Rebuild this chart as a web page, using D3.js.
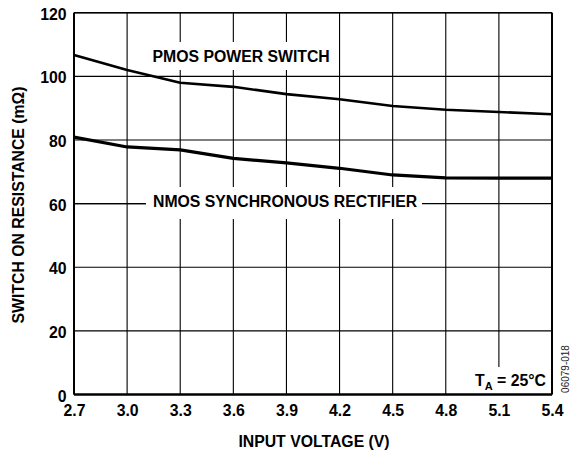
<!DOCTYPE html>
<html><head><meta charset="utf-8">
<script src="https://cdn.jsdelivr.net/npm/d3@7"></script>
<style>
html,body{margin:0;padding:0;background:#fff;}
text{font-family:"Liberation Sans",Arial,Helvetica,sans-serif;font-weight:bold;fill:#000;}
</style></head>
<body>
<svg id="c" width="573" height="453"></svg>
<script>
const voltages = [2.7, 3.0, 3.3, 3.6, 3.9, 4.2, 4.5, 4.8, 5.1, 5.4];
const pmos = [106.7, 102.0, 98.0, 96.7, 94.4, 92.8, 90.7, 89.5, 88.8, 88.1];
const nmos = [80.9, 77.8, 76.9, 74.2, 72.8, 71.1, 69.0, 68.1, 68.0, 68.0];
const xTicks = [2.7, 3.0, 3.3, 3.6, 3.9, 4.2, 4.5, 4.8, 5.1, 5.4];
const yTicks = [0, 20, 40, 60, 80, 100, 120];
const labels = {pmos: "PMOS POWER SWITCH", nmos: "NMOS SYNCHRONOUS RECTIFIER"};

const svg = d3.select("#c");
const L = 74, R = 552, T = 12.7, B = 394.5;
const x = d3.scaleLinear().domain([2.7, 5.4]).range([L, R]);
const y = d3.scaleLinear().domain([0, 120]).range([B, T]);
const fs = "15.8px";

// grid
svg.append("g").selectAll("line").data(xTicks).join("line")
  .attr("x1", d => x(d)).attr("x2", d => x(d)).attr("y1", T).attr("y2", B)
  .attr("stroke", "#000").attr("stroke-width", 1.1);
svg.append("g").selectAll("line").data(yTicks).join("line")
  .attr("x1", L).attr("x2", R).attr("y1", d => y(d)).attr("y2", d => y(d))
  .attr("stroke", "#000").attr("stroke-width", 1.1);

// label boxes (white backgrounds interrupting grid)
svg.append("rect").attr("x", 146).attr("y", 42).attr("width", 193).attr("height", 28).attr("fill", "#fff");
svg.append("rect").attr("x", 146).attr("y", 187).attr("width", 276).attr("height", 32).attr("fill", "#fff");
svg.append("rect").attr("x", 462).attr("y", 367).attr("width", 90).attr("height", 27).attr("fill", "#fff");
// restore 60 gridline left of NMOS label
svg.append("line").attr("x1", L).attr("x2", 146).attr("y1", y(60)).attr("y2", y(60)).attr("stroke", "#000").attr("stroke-width", 1.1);

// axes frame
svg.append("line").attr("x1", L).attr("x2", R).attr("y1", B).attr("y2", B).attr("stroke", "#000").attr("stroke-width", 2.6);
svg.append("line").attr("x1", L).attr("x2", L).attr("y1", T).attr("y2", B).attr("stroke", "#000").attr("stroke-width", 2);
svg.append("line").attr("x1", R).attr("x2", R).attr("y1", T).attr("y2", B).attr("stroke", "#000").attr("stroke-width", 2);
svg.append("line").attr("x1", L).attr("x2", R).attr("y1", T).attr("y2", T).attr("stroke", "#000").attr("stroke-width", 1.6);

// lines
const line = d3.line().x((d, i) => x(voltages[i])).y(d => y(d));
svg.append("path").attr("d", line(pmos)).attr("fill", "none").attr("stroke", "#000").attr("stroke-width", 2.6).attr("stroke-linejoin", "round");
svg.append("path").attr("d", line(nmos)).attr("fill", "none").attr("stroke", "#000").attr("stroke-width", 3.2).attr("stroke-linejoin", "round");

// axis tick labels
const xAxis = d3.axisBottom(x).tickValues(xTicks).tickFormat(d3.format(".1f")).tickSize(0).tickPadding(10);
const gx = svg.append("g").attr("transform", `translate(0,${B})`).call(xAxis);
gx.select(".domain").remove();
gx.selectAll("text").style("font-size", fs).style("font-family", null).attr("dy", "0.71em");
const yAxis = d3.axisLeft(y).tickValues(yTicks).tickSize(0).tickPadding(7.5);
const gy = svg.append("g").attr("transform", `translate(${L},0)`).call(yAxis);
gy.select(".domain").remove();
gy.selectAll("text").style("font-size", fs).style("font-family", null).attr("dy", "0.42em");

// titles
svg.append("text").attr("x", 314).attr("y", 447).attr("text-anchor", "middle").style("font-size", fs).text("INPUT VOLTAGE (V)");
svg.append("text").attr("transform", "translate(24,205) rotate(-90)").attr("text-anchor", "middle").style("font-size", fs).text("SWITCH ON RESISTANCE (mΩ)");

// annotations
svg.append("text").attr("x", 152.5).attr("y", 62).style("font-size", fs).text(labels.pmos);
svg.append("text").attr("x", 153).attr("y", 207).style("font-size", fs).text(labels.nmos);
const ta = svg.append("text").attr("x", 546).attr("y", 386).attr("text-anchor", "end").style("font-size", fs);
ta.append("tspan").text("T");
ta.append("tspan").attr("dy", 4).style("font-size", "11px").text("A");
ta.append("tspan").attr("dy", -4).text(" = 25°C");
svg.append("text").attr("transform", "translate(569,369) rotate(-90)").attr("text-anchor", "middle")
  .style("font-size", "10px").style("font-weight", "normal").style("fill", "#222").text("06079-018");
</script>
</body></html>
